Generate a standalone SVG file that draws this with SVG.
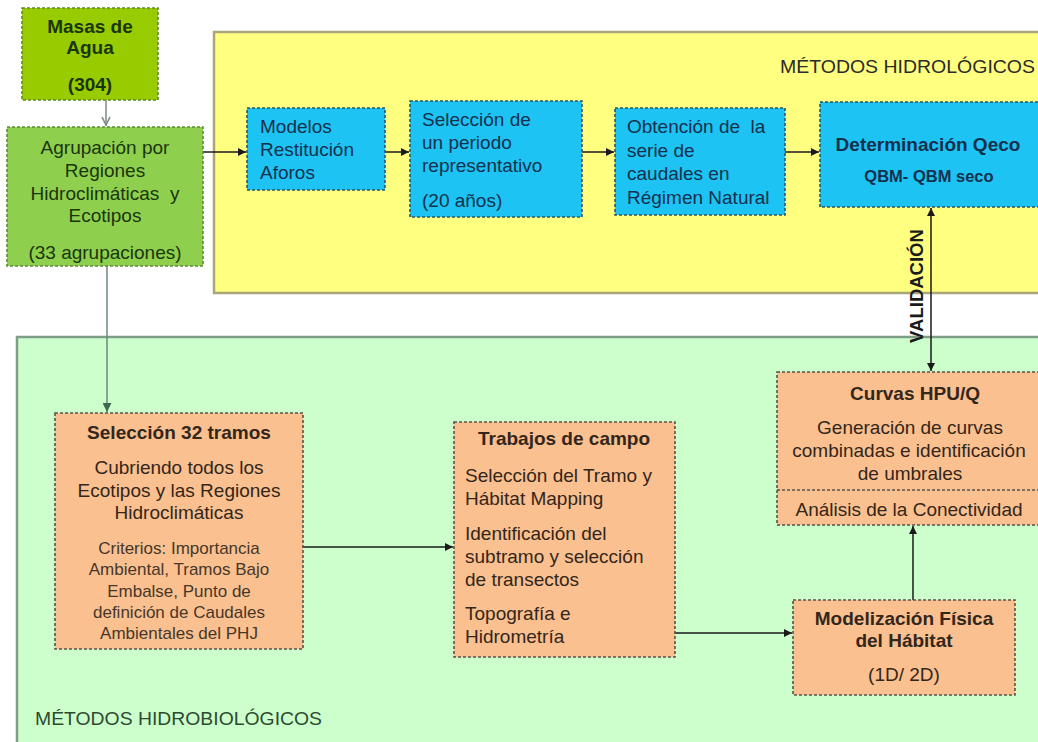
<svg xmlns="http://www.w3.org/2000/svg" width="1038" height="742" viewBox="0 0 1038 742">
<defs>
<marker id="ah" viewBox="0 0 10 10" refX="10" refY="5" markerWidth="8" markerHeight="8" markerUnits="userSpaceOnUse" orient="auto-start-reverse"><path d="M0,0 L10,5 L0,10 z" fill="#1a1a1a"/></marker>
<marker id="ahg" viewBox="0 0 10 10" refX="10" refY="5" markerWidth="10" markerHeight="10" markerUnits="userSpaceOnUse" orient="auto"><path d="M1,1 L9,5 L1,9" fill="none" stroke="#7d8a80" stroke-width="1.6"/></marker>
<marker id="ahg2" viewBox="0 0 10 10" refX="10" refY="5" markerWidth="9" markerHeight="9" markerUnits="userSpaceOnUse" orient="auto"><path d="M0,0 L10,5 L0,10 z" fill="#3f6a50"/></marker>
</defs>
<style>
text{font-family:"Liberation Sans",Arial,sans-serif;font-size:19px}
.b{font-weight:bold}
.c{text-anchor:middle}
.panel-y{fill:#FFFF80;stroke:#a9a77a;stroke-width:2.5}
.panel-g{fill:#CCFFCC;stroke:#7f9c86;stroke-width:2.5}
.bx{stroke-dasharray:3 2;stroke-width:1.6}
.gm{fill:#99CC00;stroke:#5f8a22}
.ga{fill:#8FCF4E;stroke:#5f8a3a}
.bl{fill:#1DC3F3;stroke:#2f5566}
.or{fill:#FAC090;stroke:#5a5248}
.tg{fill:#1a350c}
.tb{fill:#15304d}
.to{fill:#33261a}
.tc{fill:#46372a;font-size:17px}
.ln{fill:none;stroke:#1a1a1a;stroke-width:1.5}
</style>
<rect width="1038" height="742" fill="#ffffff"/>
<g id="panel-hidrologicos">
<rect class="panel-y" x="214" y="32" width="840" height="261"/>
<text x="780" y="73" fill="#2a2a2a" style="font-size:18.5px" textLength="255" lengthAdjust="spacingAndGlyphs">MÉTODOS HIDROLÓGICOS</text>
</g>
<g id="panel-hidrobiologicos">
<rect class="panel-g" x="17" y="337" width="1040" height="420"/>
<text x="35" y="725" fill="#2c4a30" style="font-size:18.5px" textLength="287" lengthAdjust="spacingAndGlyphs">MÉTODOS HIDROBIOLÓGICOS</text>
</g>
<g id="connectors">
<line class="ln" x1="106" y1="100" x2="106" y2="126" style="stroke:#7d8a80" marker-end="url(#ahg)"/>
<line class="ln" x1="203" y1="152" x2="246" y2="152" marker-end="url(#ah)"/>
<line class="ln" x1="385" y1="152" x2="409" y2="152" marker-end="url(#ah)"/>
<line class="ln" x1="582" y1="152" x2="614" y2="152" marker-end="url(#ah)"/>
<line class="ln" x1="785" y1="152" x2="819" y2="152" marker-end="url(#ah)"/>
<line class="ln" x1="931" y1="208" x2="931" y2="371" marker-start="url(#ah)" marker-end="url(#ah)"/>
<line class="ln" x1="107" y1="266" x2="107" y2="412" style="stroke:#6f8a7a" marker-end="url(#ahg2)"/>
<line class="ln" x1="303" y1="547" x2="453" y2="547" marker-end="url(#ah)"/>
<line class="ln" x1="675" y1="633" x2="792" y2="633" marker-end="url(#ah)"/>
<line class="ln" x1="913" y1="600" x2="913" y2="526" marker-end="url(#ah)"/>
</g>
<g id="validacion-label">
<text class="b c" transform="translate(923,286) rotate(-90)" fill="#1a1a1a" style="font-size:18.5px">VALIDACIÓN</text>
</g>
<g id="masas-agua">
<rect class="bx gm" x="22" y="8" width="136" height="92"/>
<text class="b c tg" x="90" y="33">Masas de</text>
<text class="b c tg" x="90" y="54">Agua</text>
<text class="b c tg" x="90" y="91">(304)</text>
</g>
<g id="agrupacion">
<rect class="bx ga" x="7" y="127" width="196" height="139"/>
<text class="c tg" x="105" y="154">Agrupación por</text>
<text class="c tg" x="105" y="177">Regiones</text>
<text class="c tg" x="105" y="200" xml:space="preserve">Hidroclimáticas  y</text>
<text class="c tg" x="105" y="222">Ecotipos</text>
<text class="c tg" x="105" y="259">(33 agrupaciones)</text>
</g>
<g id="modelos">
<rect class="bx bl" x="247" y="108" width="138" height="82"/>
<text class="tb" x="260" y="133">Modelos</text>
<text class="tb" x="260" y="156">Restitución</text>
<text class="tb" x="260" y="179">Aforos</text>
</g>
<g id="seleccion-periodo">
<rect class="bx bl" x="410" y="101" width="172" height="116"/>
<text class="tb" x="422" y="126">Selección de</text>
<text class="tb" x="422" y="149">un periodo</text>
<text class="tb" x="422" y="172">representativo</text>
<text class="tb" x="422" y="207">(20 años)</text>
</g>
<g id="obtencion">
<rect class="bx bl" x="615" y="108" width="170" height="107"/>
<text class="tb" x="627" y="133" xml:space="preserve">Obtención de  la</text>
<text class="tb" x="627" y="157">serie de</text>
<text class="tb" x="627" y="180">caudales en</text>
<text class="tb" x="627" y="204">Régimen Natural</text>
</g>
<g id="determinacion">
<rect class="bx bl" x="820" y="102" width="240" height="105"/>
<text class="b c tb" x="928" y="151">Determinación Qeco</text>
<text class="b c tb" x="929" y="182" style="font-size:16.5px">QBM- QBM seco</text>
</g>
<g id="curvas">
<rect class="bx or" x="777" y="372" width="280" height="153"/>
<line x1="777" y1="490" x2="1040" y2="490" stroke="#5a5248" stroke-width="1.5" stroke-dasharray="3 2"/>
<text class="b c to" x="915" y="400">Curvas HPU/Q</text>
<text class="c to" x="910" y="434">Generación de curvas</text>
<text class="c to" x="909" y="457">combinadas e identificación</text>
<text class="c to" x="910" y="480">de umbrales</text>
<text class="c to" x="909" y="516">Análisis de la Conectividad</text>
</g>
<g id="seleccion-tramos">
<rect class="bx or" x="55" y="413" width="248" height="236"/>
<text class="b c to" x="179" y="439">Selección 32 tramos</text>
<text class="c to" x="179" y="474">Cubriendo todos los</text>
<text class="c to" x="179" y="497">Ecotipos y las Regiones</text>
<text class="c to" x="179" y="519">Hidroclimáticas</text>
<text class="c tc" x="179" y="554">Criterios: Importancia</text>
<text class="c tc" x="179" y="575">Ambiental, Tramos Bajo</text>
<text class="c tc" x="179" y="597">Embalse, Punto de</text>
<text class="c tc" x="179" y="618">definición de Caudales</text>
<text class="c tc" x="179" y="639">Ambientales del PHJ</text>
</g>
<g id="trabajos-campo">
<rect class="bx or" x="454" y="422" width="221" height="235"/>
<text class="b c to" x="564" y="445">Trabajos de campo</text>
<text class="to" x="465" y="482">Selección del Tramo y</text>
<text class="to" x="465" y="505">Hábitat Mapping</text>
<text class="to" x="465" y="540">Identificación del</text>
<text class="to" x="465" y="563">subtramo y selección</text>
<text class="to" x="465" y="586">de transectos</text>
<text class="to" x="465" y="620">Topografía e</text>
<text class="to" x="465" y="643">Hidrometría</text>
</g>
<g id="modelizacion">
<rect class="bx or" x="793" y="600" width="222" height="95"/>
<text class="b c to" x="904" y="625">Modelización Física</text>
<text class="b c to" x="904" y="647">del Hábitat</text>
<text class="c to" x="904" y="681">(1D/ 2D)</text>
</g>
</svg>
